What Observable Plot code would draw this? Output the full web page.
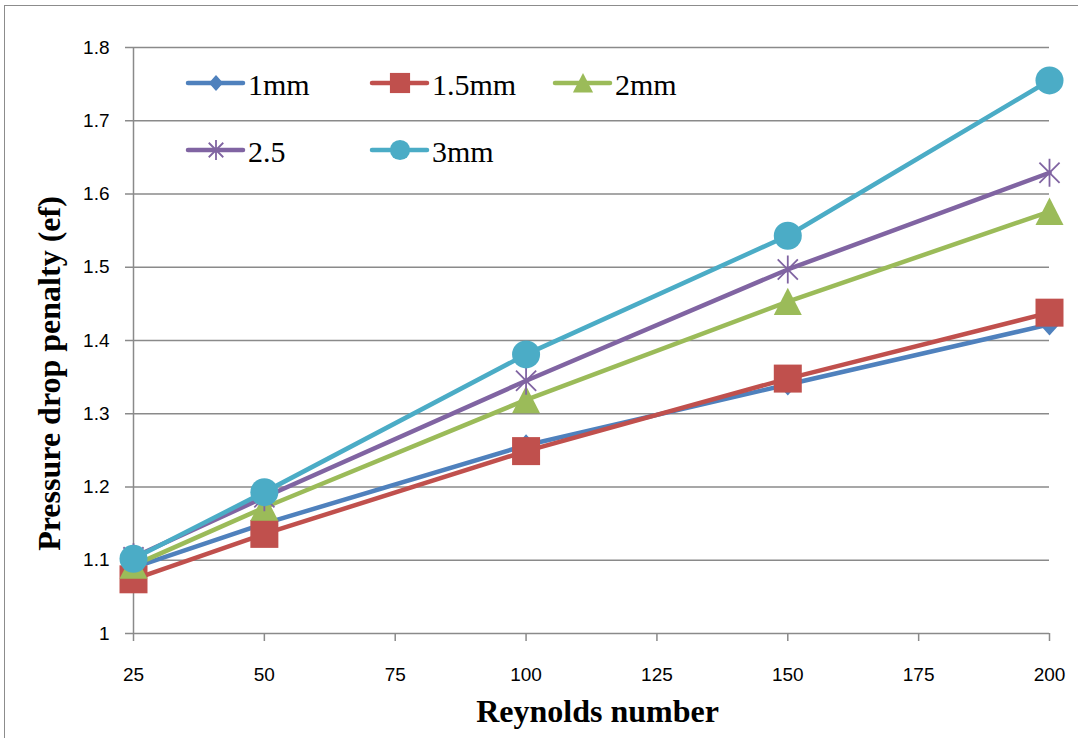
<!DOCTYPE html>
<html>
<head>
<meta charset="utf-8">
<script src="https://cdn.jsdelivr.net/npm/d3@7"></script>
<script src="https://cdn.jsdelivr.net/npm/@observablehq/plot@0.6"></script>
<style>
  html, body { margin: 0; padding: 0; background: #fff; overflow: hidden; }
  #wrap { position: relative; width: 1078px; height: 738px; overflow: hidden; background: #fff; }
  #frame { position: absolute; left: 4px; top: 5px; width: 1200px; height: 900px; border: 1.5px solid #8c8c8c; box-sizing: border-box; pointer-events: none; }
  #chart { position: absolute; left: 0; top: 0; }
  #legend { position: absolute; left: 0; top: 0; pointer-events: none; }
</style>
</head>
<body>
<div id="wrap">
  <div id="frame"></div>
  <div id="chart"></div>
  <svg id="legend" width="1078" height="200"></svg>
</div>
<script>
// Reynolds numbers on the x axis
const reynolds = [25, 50, 100, 150, 200];

// Series names, in drawing order
const seriesNames = ["1mm", "1.5mm", "2mm", "2.5", "3mm"];

// Pressure drop penalty for each rib size
const mm1  = [1.090, 1.150, 1.257, 1.340, 1.422];
const mm15 = [1.074, 1.136, 1.249, 1.348, 1.438];
const mm2  = [1.093, 1.172, 1.319, 1.453, 1.576];
const mm25 = [1.104, 1.186, 1.345, 1.497, 1.629];
const mm3  = [1.102, 1.193, 1.381, 1.543, 1.755];

// Axis ticks
const xTicks = [25, 50, 75, 100, 125, 150, 175, 200];
const yTicks = [1, 1.1, 1.2, 1.3, 1.4, 1.5, 1.6, 1.7, 1.8];

const seriesValues = [mm1, mm15, mm2, mm25, mm3];
const colors = ["#4F81BD", "#C0504D", "#9BBB59", "#8064A2", "#4BACC6"];

// Marker shapes; the half-size in pixels is recovered from the area Plot passes in
const half = size => Math.sqrt(size / Math.PI);
const diamondSym = { draw(c, size) { const r = half(size); const w = r * 0.9;
  c.moveTo(0, -r); c.lineTo(w, 0); c.lineTo(0, r); c.lineTo(-w, 0); c.closePath(); } };
const squareSym = { draw(c, size) { const r = half(size); c.rect(-r, -r, 2 * r, 2 * r); } };
const triangleSym = { draw(c, size) { const r = half(size);
  c.moveTo(0, -r); c.lineTo(r, r * 0.95); c.lineTo(-r, r * 0.95); c.closePath(); } };
const circleSym = { draw(c, size) { const r = half(size); c.moveTo(r, 0); c.arc(0, 0, r, 0, 2 * Math.PI); } };
const starSym = { draw(c, size) { const r = half(size); const d = r * 0.72;
  c.moveTo(0, -r); c.lineTo(0, r);
  c.moveTo(-d, -d); c.lineTo(d, d);
  c.moveTo(-d, d); c.lineTo(d, -d); } };

const markers = [
  { symbol: diamondSym, r: 11, filled: true },
  { symbol: squareSym, r: 14, filled: true },
  { symbol: triangleSym, r: 14, filled: true },
  { symbol: starSym, r: 14, filled: false },
  { symbol: circleSym, r: 14, filled: true }
];

const rows = seriesNames.flatMap((name, i) =>
  reynolds.map((re, j) => ({ series: name, re, value: seriesValues[i][j] })));

const gridColor = "#8a8a8a";
const tickFont = "'Liberation Sans', Arial, sans-serif";
const titleFont = "'Liberation Serif', 'Times New Roman', serif";

const dotMarks = seriesNames.map((name, i) => {
  const m = markers[i];
  return Plot.dot(rows.filter(d => d.series === name), {
    x: "re", y: "value", r: m.r, symbol: m.symbol,
    fill: m.filled ? colors[i] : "none",
    stroke: m.filled ? "none" : colors[i],
    strokeWidth: m.filled ? 0 : 1.8
  });
});

const chart = Plot.plot({
  width: 1078,
  height: 738,
  marginLeft: 133,
  marginRight: 29,
  marginTop: 47,
  marginBottom: 105,
  style: { background: "transparent", fontFamily: tickFont, fontSize: "19px", color: "#000" },
  x: { type: "linear", domain: [25, 200], axis: null },
  y: { type: "linear", domain: [1, 1.8], axis: null },
  color: { domain: seriesNames, range: colors },
  marks: [
    Plot.gridY(yTicks, { stroke: gridColor, strokeOpacity: 1, strokeWidth: 1.5 }),
    Plot.ruleX([25], { stroke: gridColor, strokeWidth: 1.5 }),
    Plot.axisY(yTicks, {
      tickSize: 8, tickPadding: 16, stroke: gridColor, strokeWidth: 1.5,
      tickFormat: d => String(+d.toFixed(1)), fill: "#000",
      fontSize: 19, fontFamily: tickFont, label: null
    }),
    Plot.axisX(xTicks, {
      tickSize: 8, tickPadding: 26, stroke: gridColor, strokeWidth: 1.5,
      tickFormat: d => String(d), fill: "#000",
      fontSize: 19, fontFamily: tickFont, label: null
    }),
    Plot.line(rows, {
      x: "re", y: "value", z: "series", stroke: "series",
      strokeWidth: 4.5, strokeLinecap: "round", strokeLinejoin: "round"
    }),
    ...dotMarks,
    Plot.text(["Reynolds number"], {
      frameAnchor: "bottom", dx: 6, dy: 78, lineAnchor: "middle", textAnchor: "middle",
      fontFamily: titleFont, fontWeight: "bold", fontSize: 32, fill: "#000"
    }),
    Plot.text(["Pressure drop penalty (ef)"], {
      frameAnchor: "left", dx: -84, dy: 33, rotate: -90, lineAnchor: "middle", textAnchor: "middle",
      fontFamily: titleFont, fontWeight: "bold", fontSize: 32, fill: "#000"
    })
  ]
});
document.getElementById("chart").appendChild(chart);

// Legend: two rows of line-and-marker swatches inside the plot area
const legendPos = [
  { x: 188, y: 83 }, { x: 372, y: 83 }, { x: 555, y: 83 },
  { x: 188, y: 150 }, { x: 372, y: 150 }
];
const legend = d3.select("#legend");
seriesNames.forEach((name, i) => {
  const m = markers[i];
  const g = legend.append("g").attr("transform", `translate(${legendPos[i].x},${legendPos[i].y})`);
  g.append("line").attr("x1", 0).attr("x2", 55).attr("y1", 0).attr("y2", 0)
    .attr("stroke", colors[i]).attr("stroke-width", 4.5).attr("stroke-linecap", "round");
  const scale = 0.72;
  g.append("path")
    .attr("transform", `translate(28,0) scale(${scale})`)
    .attr("d", d3.symbol(m.symbol, Math.PI * m.r * m.r)())
    .attr("fill", m.filled ? colors[i] : "none")
    .attr("stroke", m.filled ? "none" : colors[i])
    .attr("stroke-width", m.filled ? 0 : 1.8 / scale);
  g.append("text")
    .attr("x", 60).attr("y", 12)
    .attr("font-family", titleFont)
    .attr("font-size", 30)
    .attr("fill", "#000")
    .text(name);
});
</script>
</body>
</html>
